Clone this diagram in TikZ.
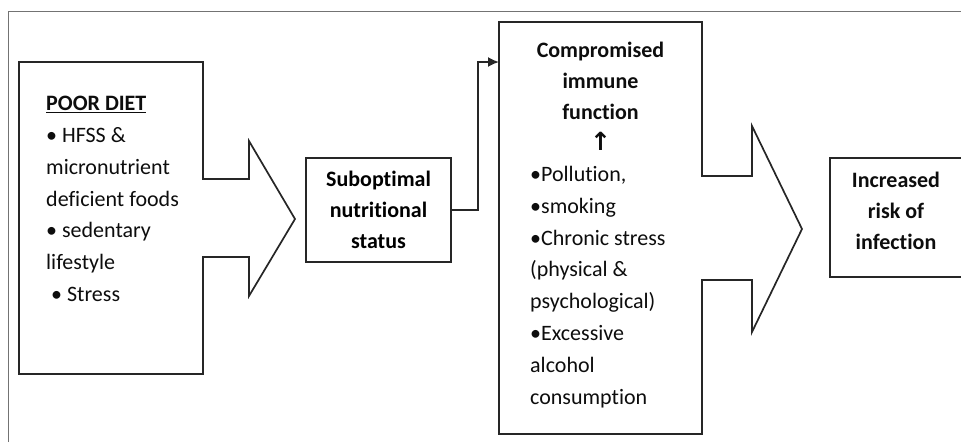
\documentclass[tikz,border=0pt]{standalone}
\usepackage{fontspec}
\setmainfont{Carlito}[Ligatures=NoCommon]
\newfontfamily\arrowfont{DejaVu Sans}
\usetikzlibrary{arrows.meta, positioning}

\begin{document}
\begin{tikzpicture}[
  x=1pt, y=-1pt,
  outline/.style={draw=black!85, line width=1.7pt, line join=miter},
  box/.style={draw=black!85, line width=1.7pt, inner sep=0pt},
  txt/.style={inner sep=0pt, text=black!95, font=\fontsize{22}{31.8}\selectfont},
  title/.style={inner sep=0pt, text=black!95, align=center, font=\fontsize{22}{31}\selectfont\bfseries},
  conn/.style={-{Latex[length=11pt, width=10pt]}, draw=black!85, line width=1.7pt}
]
\useasboundingbox (0,0) rectangle (961,442);
\clip (0,0) rectangle (961,442);

% frame
\draw[black!55, line width=0.8pt] (8,442) -- (8,11) -- (961,11);

% block arrows
\draw[outline] (19,62) -- (203,62) -- (203,179) -- (249,179) -- (249,141) -- (295,219)
  -- (249,296) -- (249,257) -- (203,257) -- (203,374) -- (19,374) -- cycle;
\draw[outline] (499,22) -- (702,22) -- (702,176) -- (752,176) -- (752,126) -- (802,229)
  -- (752,332) -- (752,280) -- (702,280) -- (702,434) -- (499,434) -- cycle;

% boxes
\node[box, minimum width=145, minimum height=104, font=\fontsize{22}{31}\selectfont\bfseries, align=center] (subopt) at (378.5,210) {Suboptimal\\nutritional\\status};
\node[box, minimum width=132, minimum height=119] (risk) at (896,217.5) {};
\node[title, yshift=7pt] (risklbl) at (risk.center) {Increased\\risk of\\infection};

% texts
\node[txt, anchor=north west, align=left] (diet) at (46,96) {\underline{\textbf{POOR DIET}}\\ • HFSS \&\\ micronutrient\\ deficient foods\\ • sedentary\\ lifestyle\\ \ • Stress};
\node[title, anchor=north] (immune) at (600.5,42) {Compromised\\immune\\function\\{\arrowfont\fontsize{25}{31}\selectfont ↑}};
\node[txt, anchor=north west, align=left] (factors) at (530,166) {•Pollution,\\•smoking\\•Chronic stress\\(physical \&\\psychological)\\•Excessive\\alcohol\\consumption};

% connector
\coordinate (midin) at (499,62);
\draw[conn] (subopt.east) -- ++(26,0) |- (midin);

\end{tikzpicture}
\end{document}
